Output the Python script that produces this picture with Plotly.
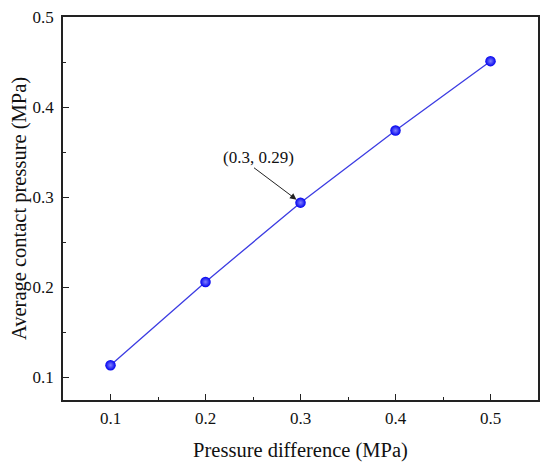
import plotly.graph_objects as go

# === données ===
pressure_diff = [0.1, 0.2, 0.3, 0.4, 0.5]
contact_pressure = [0.1136, 0.206, 0.294, 0.374, 0.451]

x_ticks = [0.1, 0.2, 0.3, 0.4, 0.5]
y_ticks = [0.1, 0.2, 0.3, 0.4, 0.5]

FONT = "Liberation Serif, Times New Roman, serif"
INK = "#111111"

fig = go.Figure()

fig.add_trace(go.Scatter(
    x=pressure_diff,
    y=contact_pressure,
    mode="lines+markers",
    line=dict(color="#3c3ce2", width=1.3),
    marker=dict(size=10.5, color="#0000ee",
                gradient=dict(type="radial", color="#8080ff")),
    showlegend=False
))

# flèche vers le point (0.3, 0.29)
fig.add_annotation(
    x=pressure_diff[2], y=contact_pressure[2],
    text="", showarrow=True, arrowhead=2, arrowsize=1.3, arrowwidth=1,
    arrowcolor="#222222", ax=-48, ay=-36, standoff=5,
)
# texte de l'annotation
fig.add_annotation(
    x=pressure_diff[2], y=contact_pressure[2],
    text="(0.3, 0.29)", showarrow=False,
    xshift=-42, yshift=45,
    font=dict(family=FONT, size=17, color=INK)
)

axis_common = dict(
    showgrid=False, zeroline=False, automargin=False,
    showline=True, linecolor="#222222", linewidth=1.6, mirror=True,
    ticks="inside", ticklen=6, tickwidth=1.2, tickcolor="#222222",
    minor=dict(ticks="inside", ticklen=3, tickwidth=1.2, tickcolor="#222222"),
    tickfont=dict(family=FONT, size=17, color=INK),
    ticklabeloverflow="allow",
)

fig.update_xaxes(
    range=[0.05, 0.55], tickvals=x_ticks, ticktext=[str(v) for v in x_ticks],
    minor_dtick=0.05, ticklabelstandoff=2,
    title=dict(text="Pressure difference (MPa)", standoff=15,
               font=dict(family=FONT, size=20.5, color=INK)),
    **axis_common
)
fig.update_yaxes(
    range=[0.075, 0.5], tickvals=y_ticks, ticktext=[str(v) for v in y_ticks],
    minor_dtick=0.05, ticklabelstandoff=4,
    title=dict(text="Average contact pressure (MPa)", standoff=2,
               font=dict(family=FONT, size=20.5, color=INK)),
    **axis_common
)

# la page html ajoute ~8 px de marge au body : on compense dans les marges
fig.update_layout(
    width=550, height=463,
    margin=dict(l=55, r=20, t=9, b=71),
    plot_bgcolor="white", paper_bgcolor="white",
)

fig.write_html("out.html")
